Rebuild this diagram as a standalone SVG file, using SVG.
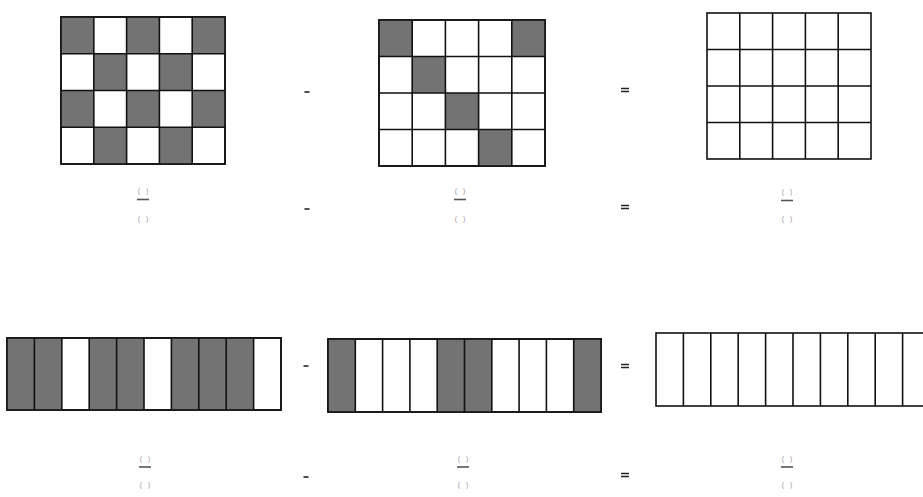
<svg xmlns="http://www.w3.org/2000/svg" width="923" height="497" viewBox="0 0 923 497">
<style>
.cell{stroke:#111;stroke-width:1.6;fill:#fff}
.sh{fill:#737373}
.op{stroke:#222;stroke-width:1.6}
.fr{font-family:"Liberation Sans",Arial,sans-serif;font-size:7px;fill:#999;text-anchor:middle;white-space:pre}
.bar{stroke:#555;stroke-width:1.6}
</style>
<rect width="923" height="497" fill="#fff"/>

<!-- Top grid 1: checkerboard -->
<g id="grid1">
<rect class="cell" x="61" y="17" width="164" height="147"/>
<g class="sh">
<rect x="61" y="17" width="32.8" height="36.75"/>
<rect x="126.6" y="17" width="32.8" height="36.75"/>
<rect x="192.2" y="17" width="32.8" height="36.75"/>
<rect x="93.8" y="53.75" width="32.8" height="36.75"/>
<rect x="159.4" y="53.75" width="32.8" height="36.75"/>
<rect x="61" y="90.5" width="32.8" height="36.75"/>
<rect x="126.6" y="90.5" width="32.8" height="36.75"/>
<rect x="192.2" y="90.5" width="32.8" height="36.75"/>
<rect x="93.8" y="127.25" width="32.8" height="36.75"/>
<rect x="159.4" y="127.25" width="32.8" height="36.75"/>
</g>
<path d="M93.8 17V164M126.6 17V164M159.4 17V164M192.2 17V164M61 53.75H225M61 90.5H225M61 127.25H225" stroke="#111" stroke-width="1.6" fill="none"/>
<rect x="61" y="17" width="164" height="147" fill="none" stroke="#111" stroke-width="1.6"/>
</g>

<!-- Top grid 2: diagonal -->
<g id="grid2">
<rect class="cell" x="379" y="20" width="166" height="146"/>
<g class="sh">
<rect x="379" y="20" width="33.2" height="36.5"/>
<rect x="511.8" y="20" width="33.2" height="36.5"/>
<rect x="412.2" y="56.5" width="33.2" height="36.5"/>
<rect x="445.4" y="93" width="33.2" height="36.5"/>
<rect x="478.6" y="129.5" width="33.2" height="36.5"/>
</g>
<path d="M412.2 20V166M445.4 20V166M478.6 20V166M511.8 20V166M379 56.5H545M379 93H545M379 129.5H545" stroke="#111" stroke-width="1.6" fill="none"/>
<rect x="379" y="20" width="166" height="146" fill="none" stroke="#111" stroke-width="1.6"/>
</g>

<!-- Top grid 3: empty -->
<g id="grid3">
<rect class="cell" x="707" y="13" width="164" height="146"/>
<path d="M739.8 13V159M772.6 13V159M805.4 13V159M838.2 13V159M707 49.5H871M707 86H871M707 122.5H871" stroke="#111" stroke-width="1.6" fill="none"/>
</g>

<!-- Bottom bar 1 -->
<g id="bar1">
<rect class="cell" x="7" y="338" width="274" height="72"/>
<g class="sh">
<rect x="7" y="338" width="54.8" height="72"/>
<rect x="89.2" y="338" width="54.8" height="72"/>
<rect x="171.4" y="338" width="82.2" height="72"/>
</g>
<path d="M34.4 338V410M61.8 338V410M89.2 338V410M116.6 338V410M144 338V410M171.4 338V410M198.8 338V410M226.2 338V410M253.6 338V410" stroke="#111" stroke-width="1.6" fill="none"/>
<rect x="7" y="338" width="274" height="72" fill="none" stroke="#111" stroke-width="1.6"/>
</g>

<!-- Bottom bar 2 -->
<g id="bar2">
<rect class="cell" x="328" y="339" width="273" height="73"/>
<g class="sh">
<rect x="328" y="339" width="27.3" height="73"/>
<rect x="437.2" y="339" width="54.6" height="73"/>
<rect x="573.7" y="339" width="27.3" height="73"/>
</g>
<path d="M355.3 339V412M382.6 339V412M409.9 339V412M437.2 339V412M464.5 339V412M491.8 339V412M519.1 339V412M546.4 339V412M573.7 339V412" stroke="#111" stroke-width="1.6" fill="none"/>
<rect x="328" y="339" width="273" height="73" fill="none" stroke="#111" stroke-width="1.6"/>
</g>

<!-- Bottom bar 3 (empty, runs off edge) -->
<g id="bar3">
<rect class="cell" x="656" y="333" width="274" height="73"/>
<path d="M683.4 333V406M710.8 333V406M738.2 333V406M765.6 333V406M793 333V406M820.4 333V406M847.8 333V406M875.2 333V406M902.6 333V406" stroke="#111" stroke-width="1.6" fill="none"/>
</g>

<!-- Operators -->
<g id="operators">
<path class="op" d="M304.5 92H309.5"/>
<path class="op" d="M304.5 209H309.5"/>
<path class="op" d="M621 88.5H629M621 91.5H629"/>
<path class="op" d="M621 205.5H629M621 208.5H629"/>
<path class="op" d="M303.5 366H308.5"/>
<path class="op" d="M303.5 477H308.5"/>
<path class="op" d="M621 364.5H629M621 367.5H629"/>
<path class="op" d="M621 473.5H629M621 476.5H629"/>
</g>

<!-- Fractions -->
<g id="frac1">
<text class="fr" x="143" y="193">(   )</text>
<path class="bar" d="M137 199.5H149"/>
<text class="fr" x="143" y="221">(   )</text>
</g>
<g id="frac2">
<text class="fr" x="460" y="193">(   )</text>
<path class="bar" d="M454 199.5H466"/>
<text class="fr" x="460" y="221">(   )</text>
</g>
<g id="frac3">
<text class="fr" x="787" y="194">(   )</text>
<path class="bar" d="M781 200.5H793"/>
<text class="fr" x="787" y="221">(   )</text>
</g>
<g id="frac4">
<text class="fr" x="145" y="461">(   )</text>
<path class="bar" d="M139 467H151"/>
<text class="fr" x="145" y="487">(   )</text>
</g>
<g id="frac5">
<text class="fr" x="463" y="461">(   )</text>
<path class="bar" d="M457 467H469"/>
<text class="fr" x="463" y="487">(   )</text>
</g>
<g id="frac6">
<text class="fr" x="787" y="461">(   )</text>
<path class="bar" d="M781 467H793"/>
<text class="fr" x="787" y="487">(   )</text>
</g>
</svg>
